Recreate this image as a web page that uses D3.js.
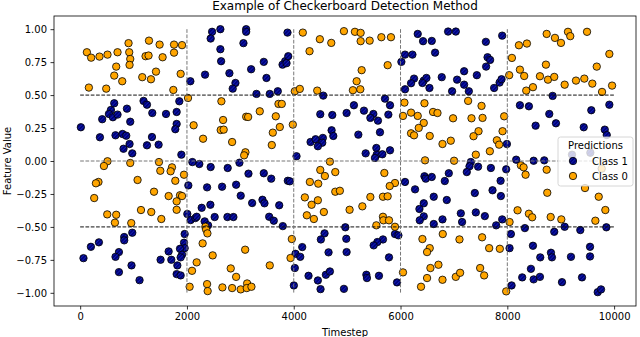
<!DOCTYPE html>
<html>
<head>
<meta charset="utf-8">
<script src="https://cdn.jsdelivr.net/npm/d3@7"></script>
<style>
  body { margin: 0; background: #fff; }
  text { font-family: "DejaVu Sans", sans-serif; fill: #000; }
</style>
</head>
<body>
<div id="chart"></div>
<script>
// Class 1 predictions: [timestep, feature value]
var class1Points = [
  [638,0.438],[576,0.387],[538,0.357],[613,0.332],[700,0.352],[876,0.397],[413,0.317],[938,0.298],
  [13,0.256],[1187,0.456],[1251,0.427],[1351,0.364],[370,0.180],[662,0.195],[794,0.205],[863,0.192],
  [925,0.129],[812,0.093],[976,0.058],[1345,0.182],[1251,0.119],[1469,0.124],
  [976,-0.544],[825,-0.577],[825,-0.602],[351,-0.617],[201,-0.651],[62,-0.737],[726,-0.691],[662,-0.727],
  [962,-0.792],[726,-0.843],[1112,-0.904],
  [2471,0.980],[2626,1.000],[2444,0.929],[3109,1.000],[3109,0.980],[3058,0.894],[2626,0.848],[2640,0.757],
  [3202,0.696],[2339,0.655],[2795,0.666],[2908,0.592],[2857,0.549],[2064,0.605],
  [1857,0.453],[1608,0.357],[1807,0.372],[1807,0.281],[1782,0.241],[1895,0.048],
  [2101,-0.008],[2232,-0.023],[2444,-0.046],[2763,-0.053],[2983,-0.013],[3152,-0.096],[2026,-0.185],
  [2377,-0.200],[2658,-0.195],[2921,-0.180],[3007,-0.263],[3221,-0.319],[2439,-0.332],[2276,-0.355],
  [2007,-0.402],[2069,-0.448],[2157,-0.433],[2182,-0.423],[2519,-0.425],[2758,-0.425],[2870,-0.425],
  [2332,-0.458],[2396,-0.488],
  [1957,-0.554],[1945,-0.620],[1957,-0.661],[1870,-0.666],[1908,-0.711],[1882,-0.731],[1657,-0.686],
  [1506,-0.749],[1707,-0.749],[1820,-0.792],[1807,-0.858],[1882,-0.868],
  [3883,0.974],[3439,0.752],[3489,0.630],[3840,0.757],[3790,0.731],[3865,0.742],[3897,0.795],
  [3302,0.509],[3551,0.509],[3701,0.529],[4553,0.496],
  [4497,0.355],[4722,0.349],[4990,0.364],[4709,0.233],[4741,0.190],[4315,0.144],[4409,0.165],
  [4545,0.175],[4534,0.139],[4452,0.112],[4052,0.036],
  [3439,-0.093],[3578,-0.134],[3889,-0.150],[3926,-0.154],[3414,-0.294],[3452,-0.321],[3728,-0.336],
  [3540,-0.423],[3626,-0.453],[3795,-0.494],
  [4577,-0.549],[4508,-0.595],[4966,-0.503],[4984,-0.590],[4159,-0.653],[4033,-0.704],[4122,-0.727],
  [4652,-0.693],[4990,-0.691],[4020,-0.812],[4277,-0.871],[4452,-0.906],[4602,-0.863],[4677,-0.838],
  [4502,-0.972],[4940,-0.970],[4002,-0.944],
  [6322,0.964],[6422,0.909],[6585,0.911],[6647,0.822],[6084,0.807],[6223,0.807],[6016,0.752],
  [6253,0.625],[6197,0.590],[6435,0.610],[6485,0.630],[6410,0.592],[6772,0.636],[6542,0.554],[6084,0.544],
  [5709,0.473],[5803,0.423],[5127,0.423],[5315,0.382],[5491,0.357],[5435,0.327],[5577,0.306],[5772,0.352],
  [5210,0.200],[5615,0.218],[5547,0.099],[5347,0.058],[5553,0.048],[5660,0.051],[5521,0.023],[5803,0.081],
  [6084,-0.159],[6272,-0.215],[6448,-0.116],[6472,-0.134],[6585,-0.121],[6829,-0.152],[6622,-0.271],
  [6435,-0.321],[6354,-0.364],[6435,-0.420],[6360,-0.450],[6866,-0.296],[6786,-0.443],[6622,-0.478],
  [5896,-0.554],[5960,-0.564],[5671,-0.595],[5566,-0.615],[5497,-0.640],[5784,-0.731],[5360,-0.863],
  [5371,-0.888],[5596,-0.871],[5934,-0.921],
  [6891,0.982],[7035,0.982],[7598,0.904],[7904,0.951],[7630,0.787],[7678,0.767],[7603,0.716],[7191,0.681],
  [7429,0.651],[7059,0.617],[7191,0.579],[7279,0.529],[6966,0.529],[7753,0.554],[7855,0.595],[7892,0.620],
  [8236,0.423],[8404,0.415],[8530,0.268],[7992,0.129],
  [7316,-0.008],[7292,-0.040],[7241,-0.084],[7453,-0.043],[7692,-0.053],[7979,-0.063],[6904,-0.093],
  [7874,-0.150],[7723,-0.222],[7391,-0.243],[7879,-0.266],[7129,-0.397],[7153,-0.463],[7410,-0.390],
  [7579,-0.418],[7904,-0.443],[7791,-0.488],[8166,0.010],[8493,0.002],
  [8329,-0.509],[8067,-0.554],[8042,-0.661],[8480,-0.643],[8617,-0.731],[8442,-0.818],[8493,-0.898],
  [8279,-0.883],[8080,-0.944],
  [8849,0.494],[9911,0.427],[8786,0.357],[8911,0.286],[9573,0.385],[9431,0.256],[9825,0.238],[9862,0.197],
  [8692,0.005],[9211,0.048],[9555,0.063],
  [8879,-0.537],[9074,-0.499],[9367,-0.524],[9855,-0.503],[9549,-0.651],[8817,-0.696],[8836,-0.731],
  [9192,-0.727],[9549,-0.724],[8611,-0.879],[9024,-0.919],[9399,-0.883],[9693,-0.995],[9755,-0.974]
];

// Class 0 predictions: [timestep, feature value]
var class0Points = [
  [126,0.825],[206,0.784],[362,0.792],[512,0.807],[700,0.825],[906,0.894],[919,0.825],[938,0.774],
  [925,0.729],[1289,0.913],[1225,0.795],[1281,0.800],[675,0.716],[638,0.648],[788,0.605],[1163,0.636],
  [1326,0.620],[1420,0.678],[163,0.557],[488,0.549],
  [512,-0.002],[445,-0.038],[938,-0.015],[343,-0.159],[295,-0.169],[1075,-0.144],[263,-0.281],
  [1383,-0.233],[507,-0.405],[675,-0.408],[651,-0.468],[957,-0.471],[1139,-0.372],[1332,-0.387],
  [1488,0.883],[1758,0.883],[1908,0.879],[1758,0.822],[1544,0.787],[1882,0.661],[1745,0.539],
  [2020,0.478],[2645,0.453],[2125,0.271],[2302,0.169],[2677,0.311],[2632,0.235],[2688,0.238],
  [3109,0.336],[3146,0.334],[2846,0.144],[3095,0.066],[3071,0.043],
  [1476,-0.008],[1501,-0.074],[1720,-0.048],[1694,-0.078],[1945,-0.104],[1782,-0.150],[1657,-0.266],
  [1870,-0.260],[1908,-0.266],[1807,-0.306],[1807,-0.370],[1520,-0.440],
  [2345,-0.499],[2358,-0.519],[2383,-0.549],[2294,-0.625],[2482,-0.716],[2182,-0.769],[2095,-0.833],
  [2820,-0.815],[2921,-0.879],[3090,-0.673],[2050,-0.954],[2377,-0.934],[2388,-0.987],[2664,-0.959],
  [2846,-0.964],[3007,-0.974],[3127,-0.929],[3120,-0.964],[3208,-0.954],
  [4170,0.974],[4489,0.924],[4703,0.896],[4940,0.985],[4296,0.833],[4020,0.529],[4114,0.547],[4440,0.534],
  [3714,0.433],[3776,0.433],[3364,0.377],[3664,0.339],[3739,0.258],[3608,0.215],[3589,0.121],[3983,0.276],
  [4677,-0.005],[4497,-0.068],[4583,-0.114],[4778,-0.084],[4302,-0.159],[4459,-0.172],[4778,-0.233],
  [4864,-0.226],[4208,-0.276],[4334,-0.332],[4452,-0.298],[4564,-0.387],[4245,-0.412],[4377,-0.440],
  [3964,-0.592],[3940,-0.736],[3551,-0.792],
  [5146,0.980],[5253,0.972],[5253,0.909],[5422,0.913],[5641,0.939],[5821,0.939],[5759,0.727],[5272,0.689],
  [5178,0.605],[5108,0.537],[5247,0.544],
  [6073,0.443],[6448,0.438],[6046,0.342],[6197,0.367],[6322,0.342],[6609,0.372],[6692,0.364],[6435,0.289],
  [6341,0.251],[6197,0.210],[6253,0.195],[6547,0.190],[6786,0.129],[6459,0.005],
  [5697,-0.091],[5896,-0.167],[5797,-0.190],[5671,-0.271],[5759,-0.268],[5435,-0.273],[5285,-0.344],
  [5046,-0.370],[5671,-0.423],[5679,-0.450],[5784,-0.450],[5547,-0.488],[5896,-0.499],
  [6410,-0.592],[6791,-0.554],[6547,-0.661],[6497,-0.691],[6710,-0.787],[6560,-0.812],[6497,-0.888],
  [6384,-0.954],[6046,-0.845],[6786,-0.901],
  [8217,0.878],[8367,0.891],[8086,0.782],[8236,0.693],[8316,0.645],[8035,0.651],[8354,0.534],[8480,0.560],
  [7266,0.456],[7517,0.418],[6984,0.324],[7329,0.324],[7536,0.327],[7941,0.339],[7461,0.226],[7367,0.188],
  [7911,0.226],[7804,0.157],[7847,0.124],[6941,0.154],[7673,0.074],[7410,0.048],[7003,0.002],
  [8254,-0.033],[8305,-0.048],[8342,-0.104],[8192,-0.374],[8404,-0.400],[8466,-0.427],[8042,-0.463],
  [7104,-0.595],[7528,-0.579],[7660,-0.661],[7860,-0.666],[7035,-0.879],[7116,-0.848],[7491,-0.812],
  [7566,-0.868],[7979,-0.989],
  [8737,0.964],[8892,0.934],[9005,0.896],[9136,0.980],[9179,0.947],[9493,0.980],[9911,0.812],[9675,0.716],
  [8723,0.731],[8611,0.643],[8761,0.617],[8879,0.638],[9074,0.579],[9286,0.610],[9442,0.625],[9592,0.587],
  [9774,0.524],[9962,0.572],
  [8737,-0.066],[8748,-0.241],[9455,-0.205],[9712,-0.271],[9836,-0.372],[8812,-0.425],[9011,-0.443],
  [9649,-0.453],[9768,-0.058]
];

var xTicks = [0, 2000, 4000, 6000, 8000, 10000];
var yTicks = [-1, -0.75, -0.5, -0.25, 0, 0.25, 0.5, 0.75, 1];
var boundaryLevels = [0.5, -0.5];   // dark dashed lines
var centreLevel = [0];              // grey dashed line
var blockEdges = [2000, 4000, 6000, 8000];
var legendLabels = ["Class 1", "Class 0"];

var W = 640, H = 337;
var margin = { top: 16, right: 4, bottom: 31, left: 54 };
var width = W - margin.left - margin.right;
var height = H - margin.top - margin.bottom;

var svg = d3.select("#chart").append("svg")
  .attr("width", W).attr("height", H);

// hatch pattern for the class 1 markers
var defs = svg.append("defs");
var pat = defs.append("pattern")
  .attr("id", "hatch")
  .attr("patternUnits", "userSpaceOnUse")
  .attr("width", 2.6).attr("height", 2.6)
  .attr("patternTransform", "rotate(45)");
pat.append("rect").attr("width", 2.6).attr("height", 2.6).attr("fill", "#00007a");
pat.append("line").attr("x1", 0).attr("y1", 0).attr("x2", 0).attr("y2", 2.6)
  .attr("stroke", "#2340e0").attr("stroke-width", 0.9);

var g = svg.append("g")
  .attr("transform", "translate(" + margin.left + "," + margin.top + ")");

var x = d3.scaleLinear().domain([-490, 10410]).range([0, width]);
var y = d3.scaleLinear().domain([-1.1, 1.1]).range([height, 0]);

var r = 3.7;

g.append("g").selectAll("circle")
  .data(class1Points).enter().append("circle")
  .attr("cx", function (d) { return x(d[0]); })
  .attr("cy", function (d) { return y(d[1]); })
  .attr("r", r)
  .attr("fill", "url(#hatch)")
  .attr("stroke", "#000").attr("stroke-width", 0.8);

g.append("g").selectAll("circle")
  .data(class0Points).enter().append("circle")
  .attr("cx", function (d) { return x(d[0]); })
  .attr("cy", function (d) { return y(d[1]); })
  .attr("r", r)
  .attr("fill", "#ffa500")
  .attr("stroke", "#000").attr("stroke-width", 0.8);

// dashed boundary lines
g.selectAll(".hdark").data(boundaryLevels).enter().append("line")
  .attr("x1", x(0)).attr("x2", x(10000))
  .attr("y1", function (d) { return y(d); }).attr("y2", function (d) { return y(d); })
  .attr("stroke", "#111").attr("stroke-width", 1).attr("stroke-dasharray", "3.7,1.6");

g.selectAll(".hgrey").data(centreLevel).enter().append("line")
  .attr("x1", x(0)).attr("x2", x(10000))
  .attr("y1", function (d) { return y(d); }).attr("y2", function (d) { return y(d); })
  .attr("stroke", "#777").attr("stroke-width", 1).attr("stroke-dasharray", "3.7,1.6");

g.selectAll(".vgrey").data(blockEdges).enter().append("line")
  .attr("y1", y(1)).attr("y2", y(-1))
  .attr("x1", function (d) { return x(d); }).attr("x2", function (d) { return x(d); })
  .attr("stroke", "#777").attr("stroke-width", 1).attr("stroke-dasharray", "3.7,1.6");

// axes
var xAxis = g.append("g")
  .attr("transform", "translate(0," + height + ")")
  .call(d3.axisBottom(x).tickValues(xTicks).tickFormat(d3.format("d")).tickSizeOuter(0).tickSize(3.5).tickPadding(3.5));
var yAxis = g.append("g")
  .call(d3.axisLeft(y).tickValues(yTicks).tickFormat(d3.format(".2f")).tickSizeOuter(0).tickSize(3.5).tickPadding(3.5));
[xAxis, yAxis].forEach(function (a) {
  a.select(".domain").remove();
  a.selectAll("line").attr("stroke", "#000").attr("stroke-width", 0.8);
  a.selectAll("text").style("font-size", "10px").style("font-family", "DejaVu Sans, sans-serif");
});

// frame
g.append("rect")
  .attr("width", width).attr("height", height)
  .attr("fill", "none").attr("stroke", "#000").attr("stroke-width", 0.8);

// labels
svg.append("text")
  .attr("x", margin.left + width / 2).attr("y", 9.5)
  .attr("text-anchor", "middle").style("font-size", "12px")
  .text("Example of Checkerboard Detection Method");
svg.append("text")
  .attr("x", margin.left + width / 2).attr("y", 336)
  .attr("text-anchor", "middle").style("font-size", "10px")
  .text("Timestep");
svg.append("text")
  .attr("transform", "translate(11," + (margin.top + height / 2) + ") rotate(-90)")
  .attr("text-anchor", "middle").style("font-size", "10px")
  .text("Feature Value");

// legend
var leg = svg.append("g").attr("transform", "translate(558,137)");
leg.append("rect")
  .attr("width", 75).attr("height", 49).attr("rx", 2.5)
  .attr("fill", "#fff").attr("fill-opacity", 0.8)
  .attr("stroke", "#ccc").attr("stroke-width", 0.8);
leg.append("text").attr("x", 37.5).attr("y", 12)
  .attr("text-anchor", "middle").style("font-size", "10px").text("Predictions");
leg.selectAll(".item").data(legendLabels).enter().append("g")
  .attr("transform", function (d, i) { return "translate(0," + (24 + i * 15) + ")"; })
  .each(function (d, i) {
    var it = d3.select(this);
    it.append("circle").attr("cx", 15).attr("cy", 0).attr("r", r)
      .attr("fill", i === 0 ? "url(#hatch)" : "#ffa500")
      .attr("stroke", "#000").attr("stroke-width", 0.8);
    it.append("text").attr("x", 34).attr("y", 3.5)
      .style("font-size", "10px").text(d);
  });
</script>
</body>
</html>
